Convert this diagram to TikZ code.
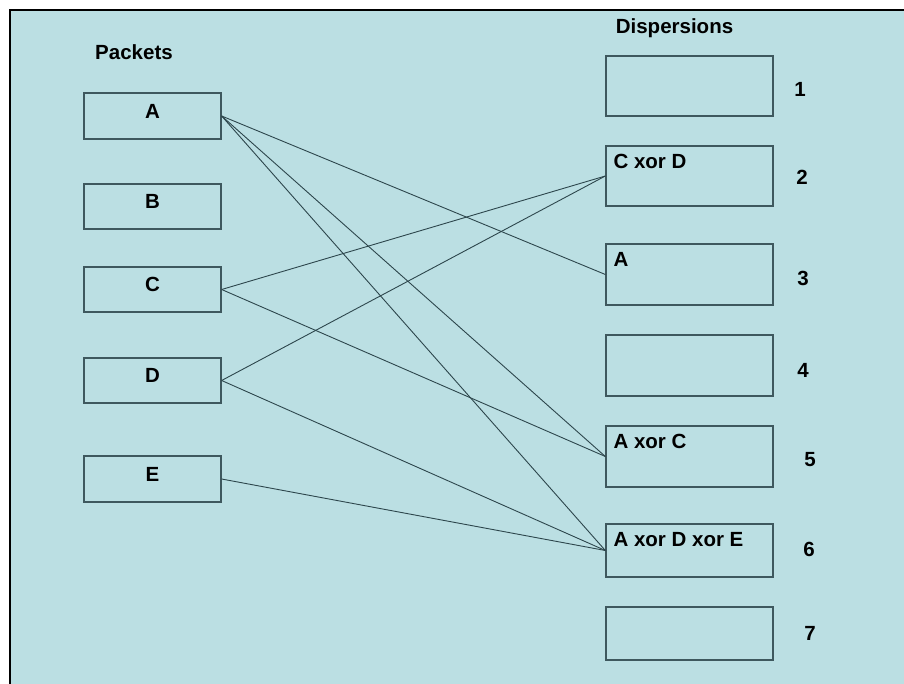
\documentclass[tikz,border=0pt]{standalone}
\usepackage{fontspec}
\setmainfont{Liberation Sans}
\usetikzlibrary{positioning}

\definecolor{slidebg}{RGB}{187,223,227}
\definecolor{boxline}{RGB}{62,88,94}
\definecolor{wirecol}{RGB}{45,70,76}

\tikzset{
  bigtext/.style={font=\bfseries\fontsize{20.5}{24}\selectfont},
  packet/.style={draw=boxline, line width=1.3pt, minimum width=137pt, minimum height=46pt,
    inner sep=0pt, text depth=10pt, bigtext},
  disp/.style={draw=boxline, line width=1.3pt, minimum width=167pt, inner sep=0pt},
  displabel/.style={anchor=north west, inner xsep=8pt, inner ysep=9pt, bigtext},
  num/.style={inner sep=0pt, bigtext},
  wire/.style={draw=wirecol, line width=0.9pt}
}

\begin{document}
\begin{tikzpicture}[x=1pt, y=-1pt]
  \useasboundingbox (0,0) rectangle (904,684);
  % slide background
  \fill[white] (0,0) rectangle (904,684);
  \fill[slidebg] (10,10) rectangle (904,684);
  \draw[line width=1.5pt] (10,684) -- (10,10) -- (904,10);

  % Headings
  \node[bigtext] (packets) at (134,52) {Packets};
  \node[bigtext] (dispersions) at (674.5,28) {Dispersions};

  % Packets
  \node[packet] (A) at (152.5,116) {A};
  \node[packet, minimum height=45pt] (B) at (152.5,206.5) {B};
  \node[packet, minimum height=45pt] (C) at (152.5,289.5) {C};
  \node[packet, minimum height=45pt] (D) at (152.5,380.5) {D};
  \node[packet] (E) at (152.5,479) {E};

  % Dispersions
  \foreach \i/\y/\h/\t in {1/86/60/{}, 2/176/60/{C xor D}, 3/274.5/61/{A},
      4/365.5/61/{}, 5/456.5/61/{A xor C}, 6/550.5/53/{A xor D xor E}, 7/633.5/53/{}}
    \node[disp, minimum height=\h pt, label={[displabel]north west:\t}] (d\i) at (689.5,\y) {};

  % numbers
  \foreach \i/\x/\y in {1/800/89.5, 2/802/177.5, 3/803/278.5, 4/803/370,
      5/810/460, 6/809/549.5, 7/810/633}
    \node[num] (n\i) at (\x,\y) {\i};

  % Connections
  \draw[wire] (A.east) -- (d3.west);
  \draw[wire] (A.east) -- (d5.west);
  \draw[wire] (A.east) -- (d6.west);
  \draw[wire] (C.east) -- (d2.west);
  \draw[wire] (C.east) -- (d5.west);
  \draw[wire] (D.east) -- (d2.west);
  \draw[wire] (D.east) -- (d6.west);
  \draw[wire] (E.east) -- (d6.west);
\end{tikzpicture}
\end{document}
